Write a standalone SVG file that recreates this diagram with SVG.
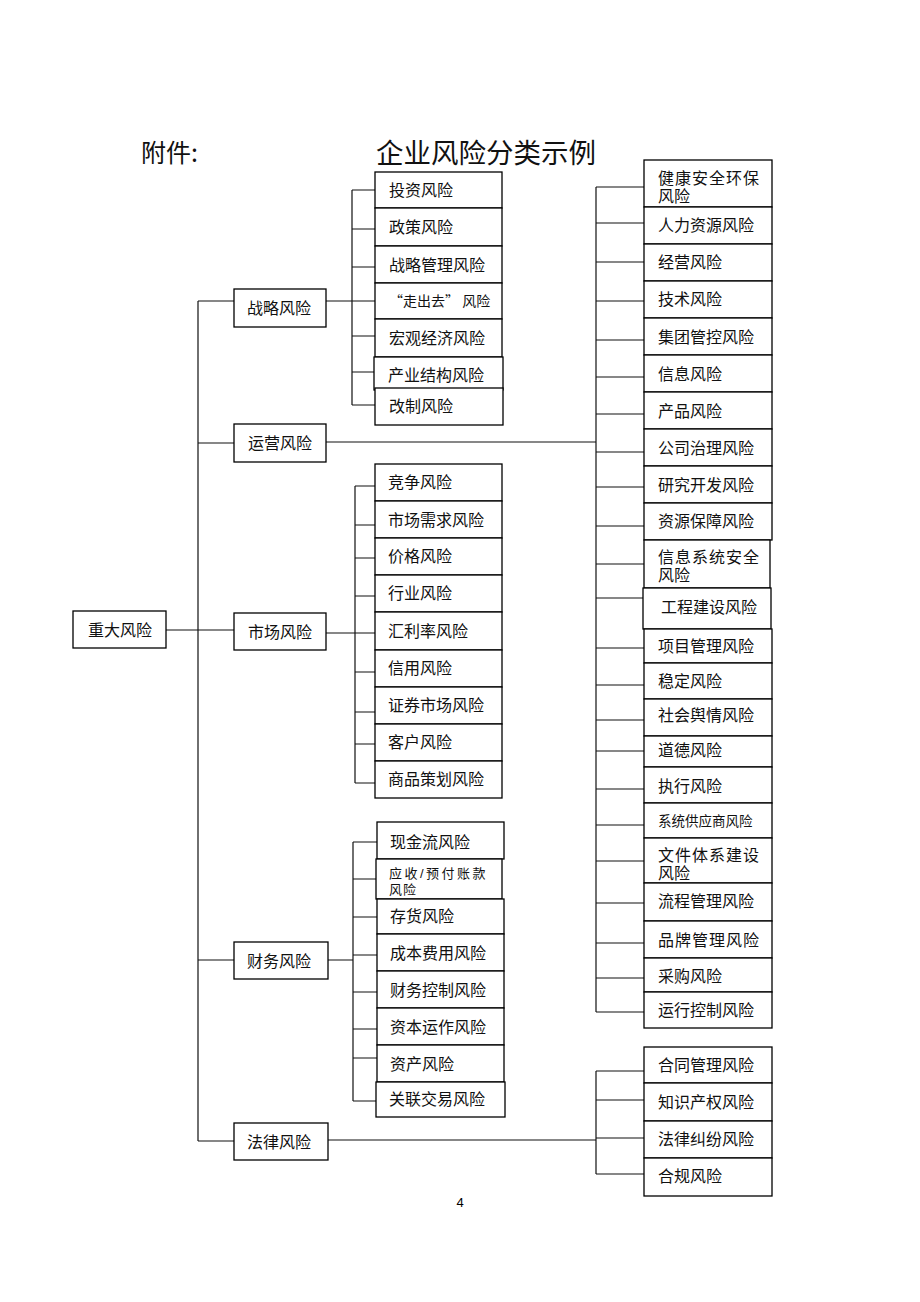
<svg xmlns="http://www.w3.org/2000/svg" width="920" height="1302" viewBox="0 0 920 1302">
<style>
.b{fill:#fff;stroke:#000;stroke-width:1.3}
.t{font-family:"Noto Sans CJK SC","Noto Sans",sans-serif;font-size:16px;fill:#111;dominant-baseline:central}
.m{font-family:"Liberation Sans","Noto Sans CJK SC",sans-serif}
.s{font-size:13px;letter-spacing:1px}
.w{letter-spacing:1px}
.c{fill:none;stroke:#111;stroke-width:1.2}
</style>
<rect width="920" height="1302" fill="#fff"/>
<text class="t" x="141" y="151" style="font-size:25px">附件:</text>
<text class="t" x="376" y="151" style="font-size:27.5px">企业风险分类示例</text>
<text x="460" y="1207" style="font-family:'Liberation Sans',sans-serif;font-size:13px" text-anchor="middle">4</text>

<g id="connectors" class="c">
<path d="M198 301V1141M198 301H234M198 443H234M166 630H234M198 960H234M198 1141H234"/>
<path d="M326 301H352M352 190V405M352 190H375M352 229H375M352 267H375M352 301H375M352 336H375M352 372H375M352 405H375"/>
<path d="M326 442H596M596 187V1012M596 187H644M596 223H644M596 262H644M596 301H644M596 340H644M596 377H644M596 414H644M596 452H644M596 487H644M596 526H644M596 564H644M596 598H644M596 648H644M596 685H644M596 720H644M596 751H644M596 789H644M596 825H644M596 861H644M596 903H644M596 943H644M596 978H644M596 1012H644"/>
<path d="M326 633H355M355 486V783M355 486H375M355 525H375M355 558H375M355 596H375M355 633H375M355 672H375M355 712H375M355 744H375M355 783H375"/>
<path d="M328 960H353M353 842V1101M353 842H377M353 879H377M353 917H377M353 955H377M353 992H377M353 1029H377M353 1058H377M353 1101H377"/>
<path d="M328 1140H596M596 1071V1174M596 1071H644M596 1100H644M596 1138H644M596 1174H644"/>
</g>

<g id="n-root"><rect class="b" x="73" y="611" width="93" height="37"/><text class="t" x="88" y="629">重大风险</text></g>
<g id="n-strategy"><rect class="b" x="234" y="289" width="92" height="38"/><text class="t" x="247" y="307">战略风险</text></g>
<g id="n-ops"><rect class="b" x="234" y="424" width="92" height="38"/><text class="t" x="248" y="442">运营风险</text></g>
<g id="n-market"><rect class="b" x="234" y="613" width="92" height="37"/><text class="t" x="248" y="631">市场风险</text></g>
<g id="n-finance"><rect class="b" x="234" y="942" width="94" height="37"/><text class="t" x="247" y="960">财务风险</text></g>
<g id="n-legal"><rect class="b" x="234" y="1123" width="94" height="37"/><text class="t" x="247" y="1141">法律风险</text></g>

<g id="n-s1"><rect class="b" x="375" y="172" width="127" height="36"/><text class="t" x="389" y="189">投资风险</text></g>
<g id="n-s2"><rect class="b" x="375" y="208" width="127" height="38"/><text class="t" x="389" y="226">政策风险</text></g>
<g id="n-s3"><rect class="b" x="375" y="246" width="127" height="37"/><text class="t" x="389" y="264">战略管理风险</text></g>
<g id="n-s4"><rect class="b" x="375" y="283" width="127" height="36"/><text class="t" x="389" y="300" style="font-size:14px">“走出去” 风险</text></g>
<g id="n-s5"><rect class="b" x="375" y="319" width="127" height="38"/><text class="t" x="389" y="337">宏观经济风险</text></g>
<g id="n-s6"><rect class="b" x="374" y="357" width="129" height="33"/><text class="t" x="388" y="374">产业结构风险</text></g>
<g id="n-s7"><rect class="b" x="375" y="388" width="128" height="37"/><text class="t" x="389" y="405">改制风险</text></g>

<g id="n-m1"><rect class="b" x="375" y="464" width="127" height="37"/><text class="t" x="388" y="481">竞争风险</text></g>
<g id="n-m2"><rect class="b" x="375" y="501" width="127" height="37"/><text class="t" x="388" y="519">市场需求风险</text></g>
<g id="n-m3"><rect class="b" x="375" y="538" width="127" height="37"/><text class="t" x="388" y="555">价格风险</text></g>
<g id="n-m4"><rect class="b" x="375" y="575" width="127" height="37"/><text class="t" x="388" y="592">行业风险</text></g>
<g id="n-m5"><rect class="b" x="375" y="612" width="127" height="38"/><text class="t" x="388" y="630">汇利率风险</text></g>
<g id="n-m6"><rect class="b" x="375" y="650" width="127" height="37"/><text class="t" x="388" y="667">信用风险</text></g>
<g id="n-m7"><rect class="b" x="375" y="687" width="127" height="37"/><text class="t" x="388" y="704">证券市场风险</text></g>
<g id="n-m8"><rect class="b" x="375" y="724" width="127" height="37"/><text class="t" x="388" y="741">客户风险</text></g>
<g id="n-m9"><rect class="b" x="375" y="761" width="127" height="37"/><text class="t" x="388" y="778">商品策划风险</text></g>

<g id="n-f1"><rect class="b" x="377" y="822" width="127" height="37"/><text class="t" x="390" y="841">现金流风险</text></g>
<g id="n-f2"><rect class="b" x="376" y="859" width="126" height="40"/><text class="t m s"><tspan x="389" y="873" style="letter-spacing:2.5px">应收/预付账款</tspan><tspan x="389" y="889">风险</tspan></text></g>
<g id="n-f3"><rect class="b" x="377" y="899" width="127" height="35"/><text class="t" x="390" y="915">存货风险</text></g>
<g id="n-f4"><rect class="b" x="377" y="934" width="127" height="37"/><text class="t" x="390" y="952">成本费用风险</text></g>
<g id="n-f5"><rect class="b" x="377" y="971" width="127" height="37"/><text class="t" x="390" y="989">财务控制风险</text></g>
<g id="n-f6"><rect class="b" x="377" y="1008" width="127" height="37"/><text class="t" x="390" y="1026">资本运作风险</text></g>
<g id="n-f7"><rect class="b" x="377" y="1045" width="127" height="37"/><text class="t" x="390" y="1063">资产风险</text></g>
<g id="n-f8"><rect class="b" x="376" y="1082" width="129" height="35"/><text class="t" x="389" y="1098">关联交易风险</text></g>

<g id="n-o1"><rect class="b" x="644" y="160" width="128" height="47"/><text class="t m"><tspan x="658" y="177.5" class="w">健康安全环保</tspan><tspan x="658" y="195.5">风险</tspan></text></g>
<g id="n-o2"><rect class="b" x="644" y="207" width="128" height="37"/><text class="t" x="658" y="224">人力资源风险</text></g>
<g id="n-o3"><rect class="b" x="644" y="244" width="128" height="37"/><text class="t" x="658" y="261">经营风险</text></g>
<g id="n-o4"><rect class="b" x="644" y="281" width="128" height="37"/><text class="t" x="658" y="298">技术风险</text></g>
<g id="n-o5"><rect class="b" x="644" y="318" width="128" height="37"/><text class="t" x="658" y="336">集团管控风险</text></g>
<g id="n-o6"><rect class="b" x="644" y="355" width="128" height="37"/><text class="t" x="658" y="373">信息风险</text></g>
<g id="n-o7"><rect class="b" x="644" y="392" width="128" height="37"/><text class="t" x="658" y="410">产品风险</text></g>
<g id="n-o8"><rect class="b" x="644" y="429" width="128" height="37"/><text class="t" x="658" y="447">公司治理风险</text></g>
<g id="n-o9"><rect class="b" x="644" y="466" width="128" height="37"/><text class="t" x="658" y="484">研究开发风险</text></g>
<g id="n-o10"><rect class="b" x="644" y="503" width="128" height="37"/><text class="t" x="658" y="520">资源保障风险</text></g>
<g id="n-o11"><rect class="b" x="644" y="540" width="126" height="48"/><text class="t m"><tspan x="658" y="557" class="w">信息系统安全</tspan><tspan x="658" y="575">风险</tspan></text></g>
<g id="n-o12"><rect class="b" x="643" y="588" width="128" height="41"/><text class="t" x="661" y="606">工程建设风险</text></g>
<g id="n-o13"><rect class="b" x="644" y="629" width="128" height="34"/><text class="t" x="658" y="645">项目管理风险</text></g>
<g id="n-o14"><rect class="b" x="644" y="663" width="128" height="36"/><text class="t" x="658" y="680">稳定风险</text></g>
<g id="n-o15"><rect class="b" x="644" y="699" width="128" height="37"/><text class="t" x="658" y="714">社会舆情风险</text></g>
<g id="n-o16"><rect class="b" x="644" y="736" width="128" height="31"/><text class="t" x="658" y="749">道德风险</text></g>
<g id="n-o17"><rect class="b" x="644" y="767" width="128" height="36"/><text class="t" x="658" y="785">执行风险</text></g>
<g id="n-o18"><rect class="b" x="644" y="803" width="128" height="35"/><text class="t" x="658" y="820" style="font-size:13.5px">系统供应商风险</text></g>
<g id="n-o19"><rect class="b" x="644" y="838" width="128" height="45"/><text class="t m"><tspan x="658" y="855" class="w">文件体系建设</tspan><tspan x="658" y="873">风险</tspan></text></g>
<g id="n-o20"><rect class="b" x="644" y="883" width="128" height="38"/><text class="t" x="658" y="900">流程管理风险</text></g>
<g id="n-o21"><rect class="b" x="644" y="921" width="128" height="37"/><text class="t w" x="658" y="939">品牌管理风险</text></g>
<g id="n-o22"><rect class="b" x="644" y="958" width="128" height="34"/><text class="t" x="658" y="975">采购风险</text></g>
<g id="n-o23"><rect class="b" x="644" y="992" width="128" height="36"/><text class="t" x="658" y="1009">运行控制风险</text></g>

<g id="n-l1"><rect class="b" x="644" y="1047" width="128" height="36"/><text class="t" x="658" y="1064">合同管理风险</text></g>
<g id="n-l2"><rect class="b" x="644" y="1083" width="128" height="38"/><text class="t" x="658" y="1101">知识产权风险</text></g>
<g id="n-l3"><rect class="b" x="644" y="1121" width="128" height="37"/><text class="t" x="658" y="1138">法律纠纷风险</text></g>
<g id="n-l4"><rect class="b" x="644" y="1158" width="128" height="38"/><text class="t" x="658" y="1175">合规风险</text></g>
</svg>
